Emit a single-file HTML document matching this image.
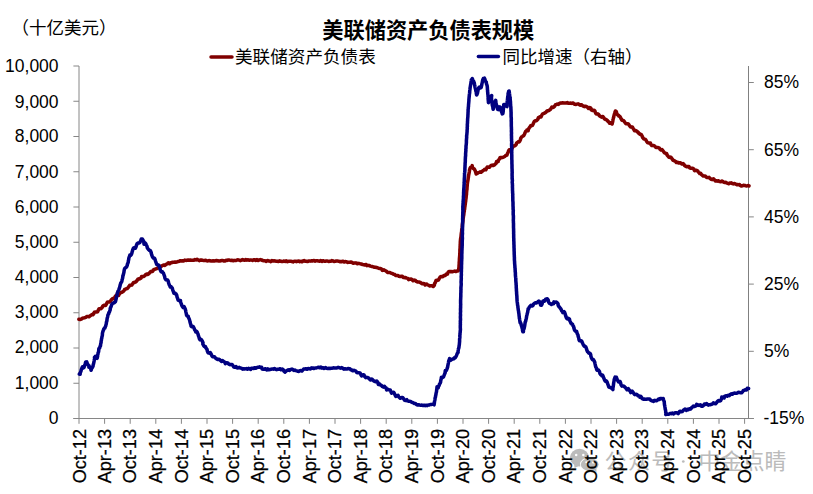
<!DOCTYPE html><html><head><meta charset="utf-8"><title>chart</title>
<style>html,body{margin:0;padding:0;background:#fff;}svg{display:block}text{font-family:"Liberation Sans",sans-serif;font-size:17.5px;fill:#000}</style></head><body>
<svg width="813" height="494" viewBox="0 0 813 494">
<rect width="813" height="494" fill="#fff"/>
<g fill="#bbbbbb">
<text x="604.5" y="469.3" style="font-family:'Liberation Sans','Noto Sans CJK SC',sans-serif;font-size:22px;fill:#bbbbbb;letter-spacing:1.4px">公众号</text>
<circle cx="683.3" cy="461.5" r="1.35"/>
<text x="698.5" y="469.3" style="font-family:'Liberation Sans','Noto Sans CJK SC',sans-serif;font-size:22px;fill:#bbbbbb">中金点睛</text>
<ellipse cx="579.5" cy="457.6" rx="9.6" ry="8.8"/>
<path d="M574 464 L574.6 468 L580 465.5Z"/>
<ellipse cx="589.7" cy="464.5" rx="9.7" ry="7.3" fill="#fff"/>
<ellipse cx="589.7" cy="464.5" rx="8.9" ry="6.5"/>
<path d="M593 469.5 L596.6 472 L596.3 468Z"/>
<circle cx="576.2" cy="455.1" r="1.25" fill="#fff"/><circle cx="583.3" cy="455.1" r="1.25" fill="#fff"/>
<circle cx="586.3" cy="462.3" r="1.05" fill="#fff"/><circle cx="593.1" cy="462.6" r="1.05" fill="#fff"/>
</g>
<g fill="none" stroke-width="1">
<path stroke="#868686" d="M79.0 66.0 V418.5"/>
<path stroke="#868686" d="M73.4 418.5 H753.8"/>
<path stroke="#808080" d="M748.5 66.0 V418.5"/>
<path stroke="#868686" d="M73.4 418.50 H79.0M73.4 383.25 H79.0M73.4 348.00 H79.0M73.4 312.75 H79.0M73.4 277.50 H79.0M73.4 242.25 H79.0M73.4 207.00 H79.0M73.4 171.75 H79.0M73.4 136.50 H79.0M73.4 101.25 H79.0M73.4 66.00 H79.0"/>
<path stroke="#868686" d="M748.5 418.50 H753.8M748.5 351.30 H753.8M748.5 284.10 H753.8M748.5 216.90 H753.8M748.5 149.70 H753.8M748.5 82.50 H753.8"/>
<path stroke="#868686" d="M79.00 418.5 V423.8M104.60 418.5 V423.8M130.20 418.5 V423.8M155.80 418.5 V423.8M181.40 418.5 V423.8M207.00 418.5 V423.8M232.60 418.5 V423.8M258.20 418.5 V423.8M283.80 418.5 V423.8M309.40 418.5 V423.8M335.00 418.5 V423.8M360.60 418.5 V423.8M386.20 418.5 V423.8M411.80 418.5 V423.8M437.40 418.5 V423.8M463.00 418.5 V423.8M488.60 418.5 V423.8M514.20 418.5 V423.8M539.80 418.5 V423.8M565.40 418.5 V423.8M591.00 418.5 V423.8M616.60 418.5 V423.8M642.20 418.5 V423.8M667.80 418.5 V423.8M693.40 418.5 V423.8M719.00 418.5 V423.8M744.60 418.5 V423.8"/>
</g>
<g fill="none" stroke-linejoin="round" stroke-linecap="round">
<path stroke="#800000" stroke-width="3.55" d="M78.9 319.2 L80.1 319.5 L81.3 319.1 L82.3 318.2 L83.4 318.0 L84.5 317.8 L85.7 317.4 L86.7 316.6 L87.8 316.5 L89.0 316.7 L90.1 315.9 L91.1 315.1 L91.8 314.6 L92.8 314.8 L93.7 313.8 L94.4 312.3 L95.6 312.0 L96.5 312.0 L97.7 311.7 L98.3 310.1 L99.1 308.7 L100.3 308.8 L101.0 308.5 L102.0 307.7 L102.8 306.1 L103.8 305.2 L104.8 305.5 L105.7 305.2 L106.5 303.9 L107.3 302.3 L108.4 302.0 L109.3 302.0 L110.3 301.6 L111.1 300.1 L112.2 299.0 L112.9 298.5 L113.8 298.7 L114.8 297.9 L115.4 296.2 L116.4 295.1 L117.3 294.9 L118.6 295.5 L119.2 294.1 L120.2 293.0 L121.2 292.4 L121.9 292.3 L122.7 291.8 L123.9 290.9 L124.6 289.4 L125.6 289.2 L126.2 288.7 L127.2 288.6 L128.3 287.3 L129.2 286.2 L129.7 285.2 L130.6 285.3 L131.7 285.1 L132.7 283.7 L133.5 282.6 L134.4 282.5 L135.2 282.2 L136.3 281.5 L137.3 280.1 L137.9 279.1 L138.7 278.8 L139.8 278.9 L141.0 278.0 L141.6 276.5 L142.8 276.6 L143.7 276.4 L144.8 275.8 L145.7 274.5 L146.7 274.0 L147.9 274.5 L148.8 273.7 L149.9 272.6 L150.7 271.5 L151.6 271.4 L152.7 271.4 L153.3 270.0 L154.6 269.2 L155.7 269.0 L156.5 268.6 L157.7 268.2 L158.5 266.8 L159.4 266.1 L160.5 266.7 L161.4 266.2 L162.5 265.5 L163.5 265.0 L164.6 265.4 L165.5 264.9 L166.4 264.2 L167.5 263.6 L168.3 262.8 L169.6 263.7 L170.5 262.7 L171.7 262.7 L172.7 262.2 L173.8 262.2 L175.0 262.0 L176.2 262.2 L177.2 261.8 L178.3 261.4 L179.4 261.2 L180.4 260.7 L181.6 261.0 L182.6 260.8 L183.8 260.9 L184.8 260.1 L185.9 260.4 L187.0 260.2 L188.1 260.0 L189.2 260.3 L190.4 260.1 L191.5 260.2 L192.6 260.3 L193.8 260.2 L194.9 259.5 L196.0 260.0 L197.1 259.3 L198.1 259.9 L199.2 260.6 L200.3 260.1 L201.4 260.0 L202.4 260.3 L203.5 260.4 L204.6 260.4 L205.7 260.2 L206.7 260.8 L207.8 260.9 L208.9 260.6 L210.0 260.7 L211.1 260.9 L212.1 261.0 L213.2 260.8 L214.3 260.9 L215.4 260.7 L216.5 260.5 L217.6 260.7 L218.7 261.0 L219.7 261.0 L220.8 260.7 L221.8 260.5 L222.9 260.6 L224.0 261.0 L225.0 260.9 L226.1 260.3 L227.2 260.4 L228.3 260.0 L229.4 260.1 L230.5 260.4 L231.6 260.3 L232.7 260.6 L233.8 260.6 L234.9 260.4 L236.0 260.5 L237.0 260.0 L238.1 259.8 L239.2 260.2 L240.3 260.6 L241.4 260.1 L242.5 259.6 L243.6 260.0 L244.7 260.3 L245.8 259.6 L246.9 260.1 L248.1 259.7 L249.2 260.3 L250.3 260.1 L251.4 260.0 L252.5 260.5 L253.7 259.8 L254.8 259.7 L255.9 260.5 L257.0 259.6 L258.2 260.5 L259.3 259.9 L260.4 259.6 L261.6 260.0 L262.8 260.5 L263.9 260.8 L265.1 260.7 L266.3 261.4 L267.4 260.5 L268.5 260.9 L269.6 261.0 L270.8 261.6 L271.9 260.5 L273.0 261.0 L274.1 260.8 L275.2 260.9 L276.3 261.3 L277.4 261.2 L278.5 261.5 L279.7 260.9 L280.8 261.2 L281.9 261.5 L283.0 261.4 L284.1 261.0 L285.2 261.5 L286.3 260.9 L287.5 261.7 L288.6 261.3 L289.7 261.2 L290.8 261.3 L291.9 261.5 L293.1 261.9 L294.2 261.3 L295.3 261.3 L296.4 261.6 L297.6 261.2 L298.7 261.0 L299.8 261.7 L300.9 261.3 L302.0 261.8 L303.0 261.0 L304.1 260.6 L305.2 261.3 L306.3 261.2 L307.5 261.5 L308.5 261.1 L309.6 261.0 L310.7 261.1 L311.8 260.8 L312.9 260.9 L314.1 260.5 L315.2 261.1 L316.3 260.7 L317.4 260.8 L318.5 261.1 L319.6 261.2 L320.7 260.6 L321.8 261.5 L322.9 260.7 L324.1 261.2 L325.2 261.2 L326.3 261.0 L327.4 261.0 L328.5 261.5 L329.6 261.2 L330.8 261.2 L331.9 260.6 L333.0 260.9 L334.1 261.5 L335.2 261.3 L336.4 261.0 L337.5 261.1 L338.6 261.2 L339.7 261.6 L340.9 261.6 L342.0 261.7 L343.1 261.2 L344.2 262.0 L345.3 261.6 L346.4 261.7 L347.4 262.4 L348.6 262.2 L349.7 262.2 L350.8 262.1 L351.9 262.3 L352.9 263.1 L354.0 263.1 L355.1 262.9 L356.3 263.1 L357.3 263.7 L358.4 263.4 L359.5 263.6 L360.6 263.9 L361.7 264.1 L362.7 264.6 L363.8 264.7 L364.9 265.0 L366.2 264.5 L367.0 265.6 L368.2 265.4 L369.4 265.6 L370.4 266.1 L371.4 266.4 L372.5 266.5 L373.5 267.0 L374.6 267.3 L375.6 267.3 L376.5 267.6 L377.5 267.8 L378.6 268.2 L379.6 268.4 L380.5 268.5 L381.5 269.1 L382.4 270.4 L383.8 269.9 L384.7 270.4 L385.8 270.8 L386.8 271.8 L387.8 272.5 L388.7 272.4 L389.9 272.4 L390.9 273.1 L391.9 273.4 L392.8 273.7 L393.6 274.2 L394.8 274.5 L395.6 275.5 L396.7 275.6 L397.9 275.5 L398.9 276.2 L400.1 276.5 L401.3 276.3 L402.4 276.3 L403.3 277.4 L404.5 277.6 L405.6 277.6 L406.6 278.1 L407.8 278.4 L408.7 279.6 L409.9 279.3 L411.1 279.1 L412.2 279.8 L413.1 280.8 L414.4 280.1 L415.5 280.5 L416.4 281.4 L417.4 281.9 L418.4 281.9 L419.3 282.1 L420.4 282.5 L421.4 283.2 L422.2 283.7 L423.3 283.5 L424.4 283.7 L425.2 285.0 L426.6 284.1 L427.5 284.7 L428.6 285.3 L429.7 285.9 L430.9 285.8 L432.0 285.7 L433.2 286.5 L433.7 285.9 L434.4 285.2 L434.5 283.8 L435.6 282.0 L436.0 280.5 L437.0 280.2 L437.8 280.3 L438.5 279.9 L439.2 278.6 L440.1 277.1 L441.0 276.6 L442.0 276.8 L443.0 276.5 L443.9 275.5 L445.3 275.4 L445.9 274.7 L446.3 274.0 L447.5 274.1 L447.9 272.6 L448.9 271.5 L450.1 271.6 L451.2 271.6 L452.4 271.7 L453.6 271.4 L454.7 271.1 L455.8 271.5 L456.8 271.1 L457.9 271.0 L458.6 270.3 L458.7 269.4 L458.8 268.2 L459.0 267.1 L459.0 265.9 L459.1 264.8 L459.2 263.7 L459.2 262.5 L459.3 261.4 L459.4 260.3 L459.4 259.1 L459.5 258.0 L459.6 256.8 L459.7 255.7 L459.8 254.6 L459.8 253.4 L459.9 252.3 L459.9 251.2 L459.9 250.0 L460.0 248.9 L460.1 247.8 L460.1 246.7 L460.2 245.5 L460.2 244.4 L460.3 243.3 L460.3 242.1 L460.4 241.0 L460.5 239.9 L460.6 238.8 L460.8 237.7 L461.0 236.6 L461.1 235.5 L461.2 234.4 L461.3 233.3 L461.5 232.2 L461.7 231.1 L461.7 229.9 L461.9 228.8 L462.1 227.7 L462.2 226.6 L462.3 225.5 L462.4 224.4 L462.6 223.3 L462.8 222.2 L462.9 221.1 L463.0 220.0 L463.1 218.9 L463.3 217.8 L463.4 216.8 L463.6 215.7 L463.8 214.6 L463.9 213.6 L464.0 212.5 L464.3 211.4 L464.3 210.3 L464.6 209.3 L464.7 208.2 L464.8 207.1 L465.0 206.0 L465.1 205.0 L465.3 203.9 L465.4 202.8 L465.6 201.7 L465.7 200.7 L465.8 199.6 L466.0 198.5 L466.1 197.5 L466.2 196.4 L466.3 195.4 L466.5 194.3 L466.5 193.3 L466.6 192.2 L466.7 191.1 L466.8 190.1 L467.0 189.0 L467.0 188.0 L467.1 186.9 L467.2 185.9 L467.2 184.8 L467.4 183.7 L467.5 182.6 L467.7 181.5 L467.9 180.4 L468.1 179.3 L468.2 178.2 L468.4 177.1 L468.5 176.0 L468.7 175.0 L468.9 174.0 L469.1 173.0 L469.3 172.0 L469.4 171.0 L469.6 169.8 L470.0 168.4 L470.6 167.3 L471.2 167.0 L471.8 166.8 L472.2 165.7 L472.5 167.5 L473.1 168.3 L473.7 168.6 L474.2 169.0 L474.7 169.8 L475.3 171.0 L475.8 172.6 L476.2 174.0 L477.1 173.5 L478.1 172.7 L479.2 172.4 L480.0 171.9 L481.1 172.3 L481.9 171.4 L483.1 170.7 L483.9 170.0 L484.5 169.4 L485.8 169.8 L486.5 168.5 L487.2 167.1 L488.4 167.3 L489.3 167.3 L490.0 166.4 L491.1 165.5 L492.3 165.1 L493.4 165.5 L494.3 165.0 L495.3 164.0 L496.4 162.9 L496.5 161.6 L497.3 161.8 L498.1 161.6 L498.3 160.5 L499.4 159.0 L500.0 157.8 L500.9 157.5 L501.9 157.7 L502.9 157.3 L504.0 156.9 L505.0 156.2 L505.6 155.7 L506.1 155.3 L506.9 155.0 L507.4 153.7 L508.2 152.0 L508.7 150.7 L509.2 149.8 L510.0 149.8 L510.9 150.2 L511.6 149.1 L512.5 147.5 L513.3 146.4 L513.9 146.0 L514.4 145.6 L515.2 145.6 L516.2 144.5 L516.7 142.9 L517.8 142.1 L518.3 141.7 L519.1 142.0 L519.7 141.2 L520.4 139.8 L520.7 138.3 L521.7 136.9 L522.5 136.5 L522.9 136.0 L523.6 135.7 L524.3 134.6 L525.0 133.0 L525.6 131.4 L526.6 131.0 L526.9 130.2 L528.1 130.7 L528.4 129.5 L529.2 127.8 L530.3 126.5 L530.7 125.6 L531.4 125.4 L532.4 125.5 L533.0 124.3 L533.7 122.6 L534.5 121.2 L535.2 120.8 L536.0 120.8 L536.8 120.4 L538.0 119.0 L538.4 117.5 L539.5 117.4 L539.9 116.7 L541.0 116.9 L541.6 115.6 L542.5 114.0 L543.5 113.5 L544.3 113.3 L545.1 112.8 L546.3 111.8 L547.3 110.7 L548.4 110.8 L549.2 110.3 L550.3 109.6 L551.2 108.1 L551.8 107.1 L552.9 107.5 L553.6 107.1 L554.7 106.1 L555.5 104.8 L556.5 104.6 L557.3 104.1 L558.4 104.4 L559.4 103.6 L560.3 103.0 L561.4 103.1 L562.5 102.8 L563.8 103.0 L565.0 103.0 L566.1 103.0 L567.3 102.6 L568.3 103.2 L569.5 103.3 L570.7 103.1 L571.8 103.4 L573.0 103.0 L574.0 103.8 L575.0 104.3 L576.1 104.5 L577.2 104.0 L578.3 103.9 L579.3 104.7 L580.3 105.2 L581.4 104.7 L582.3 105.5 L583.4 106.2 L584.4 106.6 L585.6 106.3 L586.7 106.6 L587.7 107.6 L588.5 108.4 L589.7 107.5 L590.8 108.1 L591.1 109.7 L592.1 110.4 L593.1 110.2 L594.0 110.2 L594.9 110.9 L595.3 112.4 L596.1 113.7 L597.0 114.0 L597.7 113.9 L598.5 114.3 L599.4 115.7 L600.6 116.5 L601.5 117.1 L602.9 116.5 L603.8 117.7 L604.6 119.0 L605.5 119.5 L606.3 119.6 L607.0 120.1 L607.8 121.2 L609.0 122.2 L609.5 123.2 L610.4 122.8 L611.1 123.3 L612.1 124.0 L612.3 123.1 L612.6 122.1 L612.8 121.0 L612.9 120.0 L613.2 118.9 L613.4 117.9 L613.6 117.6 L613.8 116.4 L614.2 114.9 L614.7 113.3 L615.1 111.8 L615.4 111.0 L616.4 111.7 L616.7 113.4 L617.7 114.9 L618.5 115.3 L618.9 116.1 L619.7 116.2 L620.4 117.2 L621.2 118.9 L621.9 120.3 L622.9 120.3 L623.5 120.6 L624.1 121.2 L625.0 122.5 L625.9 123.7 L627.0 123.7 L627.9 123.8 L628.7 124.3 L629.6 125.8 L630.5 127.0 L631.5 126.9 L632.3 127.0 L632.9 128.0 L633.8 129.4 L634.5 130.8 L635.7 130.5 L636.3 130.8 L637.0 131.5 L638.3 132.5 L639.0 133.7 L639.9 133.7 L640.3 134.5 L641.3 134.5 L642.1 136.0 L642.8 137.7 L643.6 138.7 L644.2 139.1 L645.0 139.2 L645.8 139.9 L646.7 141.4 L647.5 142.6 L648.3 142.9 L649.1 142.9 L650.4 143.0 L650.9 144.5 L651.8 145.5 L652.8 145.6 L653.9 145.5 L655.0 146.4 L656.0 147.4 L657.1 147.5 L658.1 147.5 L659.3 148.1 L660.2 149.4 L661.0 150.0 L662.0 149.5 L662.6 150.3 L663.5 151.5 L664.5 152.8 L665.4 153.1 L665.9 153.5 L666.7 153.6 L667.0 154.8 L668.0 156.1 L669.0 157.2 L669.7 157.4 L670.6 157.1 L671.4 157.8 L672.2 159.1 L673.0 160.3 L673.9 160.5 L674.5 160.9 L675.4 161.3 L676.4 162.5 L677.7 162.3 L678.6 162.9 L679.8 162.7 L680.9 163.2 L681.9 164.0 L683.1 163.6 L683.9 164.3 L684.6 165.5 L685.7 166.3 L686.6 166.8 L687.7 166.6 L689.0 166.6 L689.7 167.9 L690.8 168.3 L691.7 168.3 L692.9 168.3 L693.9 169.1 L694.5 170.7 L695.5 170.6 L696.5 170.3 L697.5 170.8 L698.4 172.1 L699.3 172.8 L699.7 173.5 L700.6 173.3 L701.3 174.4 L702.3 175.3 L703.2 175.9 L704.2 176.0 L705.2 176.0 L706.0 176.9 L707.0 177.5 L708.0 177.6 L709.1 177.4 L710.0 178.4 L711.0 179.3 L712.2 179.6 L713.5 178.8 L714.4 179.7 L715.3 180.9 L716.5 180.7 L717.4 181.1 L718.6 180.8 L719.6 181.6 L720.7 181.7 L721.9 181.0 L722.8 181.7 L723.8 182.2 L724.8 182.4 L725.8 182.3 L726.6 183.1 L727.7 183.2 L728.7 183.8 L729.9 183.1 L731.1 182.9 L732.2 183.5 L733.4 183.9 L734.6 183.5 L735.5 184.0 L736.5 184.6 L737.6 184.6 L738.5 184.7 L739.6 184.6 L740.4 185.6 L741.5 186.0 L742.6 185.6 L743.7 185.3 L744.8 185.4 L745.8 185.7 L746.9 186.0 L748.0 185.5 L749.0 185.9"/>
<path stroke="#000080" stroke-width="3.55" d="M79.3 374.1 L80.1 374.3 L80.2 373.0 L80.9 371.4 L81.3 369.6 L82.0 367.9 L82.5 366.9 L83.7 367.8 L84.1 367.2 L84.4 366.3 L84.8 365.0 L85.3 363.5 L85.7 362.1 L86.7 361.9 L87.2 363.3 L88.2 365.1 L89.1 365.9 L88.9 367.3 L89.7 367.2 L90.2 367.4 L90.6 368.2 L91.1 370.3 L91.5 368.7 L91.7 368.0 L92.2 367.8 L92.3 367.0 L93.0 366.4 L93.1 365.3 L93.5 364.0 L93.8 362.6 L94.1 361.1 L94.3 359.8 L94.7 358.4 L94.5 357.4 L95.2 356.5 L96.2 357.3 L97.1 358.3 L97.6 356.3 L97.6 355.1 L98.0 354.0 L98.1 352.8 L98.6 351.8 L98.7 350.6 L98.9 348.5 L99.7 347.8 L99.9 346.9 L100.1 346.2 L100.5 345.9 L100.6 344.5 L100.8 343.4 L101.1 342.4 L101.1 341.3 L101.4 340.2 L101.5 339.1 L101.8 338.1 L101.9 337.0 L102.2 336.0 L102.4 334.9 L102.4 333.8 L102.6 332.5 L103.1 330.9 L103.6 329.7 L103.8 328.8 L104.3 328.4 L104.8 328.2 L105.0 327.5 L105.3 326.9 L105.7 326.0 L105.9 325.0 L106.3 323.7 L106.4 322.4 L106.9 320.8 L107.0 319.6 L107.2 318.3 L107.6 316.9 L107.8 315.8 L108.0 314.8 L108.4 314.2 L108.8 313.7 L108.8 312.6 L109.2 312.4 L109.5 311.7 L109.8 310.8 L110.2 309.8 L110.2 308.6 L111.1 306.6 L111.6 304.9 L112.3 303.7 L112.8 303.2 L113.4 303.1 L114.3 302.7 L115.4 301.7 L115.7 300.8 L115.9 299.7 L116.2 298.6 L116.4 297.5 L116.6 296.4 L116.9 295.4 L117.3 294.3 L117.3 293.2 L117.7 292.2 L118.0 291.1 L118.2 291.0 L118.7 290.1 L119.2 288.6 L119.8 286.8 L120.1 285.3 L120.5 284.0 L120.8 283.0 L121.3 282.4 L121.6 281.9 L121.9 280.9 L122.1 279.8 L122.4 278.8 L122.7 277.7 L122.8 276.6 L123.1 275.6 L123.4 274.5 L123.6 273.4 L123.9 272.4 L124.1 270.8 L124.4 269.4 L124.8 268.2 L125.5 267.8 L126.0 267.4 L126.5 267.2 L126.8 266.4 L127.2 265.4 L127.4 264.2 L128.3 262.1 L128.3 261.1 L128.7 259.5 L128.8 258.4 L129.1 257.3 L129.5 256.5 L129.7 255.7 L129.9 255.0 L130.7 255.4 L131.3 254.7 L131.8 253.4 L132.2 251.7 L132.7 249.9 L133.3 248.4 L133.9 247.7 L134.6 248.0 L135.4 248.2 L135.9 247.1 L136.4 245.5 L137.1 243.7 L138.1 243.0 L138.6 242.7 L139.3 242.9 L139.9 242.4 L140.7 240.8 L141.3 239.0 L141.8 239.1 L142.4 239.0 L143.7 241.4 L143.9 242.8 L144.0 244.2 L145.4 243.2 L145.8 243.8 L146.2 244.7 L147.0 246.3 L147.4 248.0 L148.5 249.6 L149.1 250.0 L149.5 250.4 L150.2 250.5 L150.9 251.6 L151.2 253.0 L151.7 254.9 L152.3 256.5 L152.9 257.4 L153.4 258.0 L154.0 258.0 L154.6 258.3 L155.0 259.4 L155.5 261.0 L156.2 263.0 L156.7 264.5 L157.7 264.7 L158.1 265.0 L158.8 265.2 L159.1 266.4 L159.9 268.1 L160.2 269.8 L160.9 271.4 L161.7 271.9 L162.4 271.8 L162.7 272.5 L163.4 273.1 L163.9 274.5 L164.6 276.4 L164.9 277.9 L165.5 279.2 L166.0 279.8 L166.7 279.8 L167.5 279.9 L168.3 281.4 L168.6 283.0 L169.3 284.9 L169.9 286.0 L170.2 286.8 L171.0 286.5 L171.4 287.3 L172.2 288.1 L172.7 289.8 L173.4 291.7 L173.9 293.1 L174.9 293.0 L175.1 293.8 L175.9 293.8 L176.7 295.1 L177.0 296.8 L177.7 298.7 L178.1 300.1 L178.9 300.5 L179.5 300.5 L180.5 300.5 L180.5 301.9 L181.2 303.6 L181.9 305.6 L182.6 306.8 L183.1 307.5 L184.1 306.7 L184.5 307.6 L185.2 308.9 L185.7 310.7 L185.9 312.1 L186.3 313.6 L186.5 314.9 L187.0 315.8 L187.7 315.9 L188.2 316.2 L188.3 317.2 L188.7 317.9 L189.2 319.0 L189.7 320.5 L190.0 322.0 L190.5 323.7 L190.9 325.0 L191.1 326.1 L191.6 326.7 L192.1 326.7 L193.2 326.5 L194.0 328.0 L194.7 329.9 L195.6 330.8 L195.7 331.9 L196.6 331.4 L197.0 331.9 L197.3 332.7 L198.0 334.0 L198.4 335.6 L199.1 337.5 L199.4 338.8 L200.0 339.7 L200.9 339.2 L201.4 339.7 L202.1 340.7 L203.0 342.8 L202.8 344.0 L203.8 345.8 L204.3 346.5 L205.0 346.5 L205.5 346.7 L205.7 347.7 L207.0 349.3 L207.3 350.9 L207.9 352.5 L208.6 353.0 L209.2 353.1 L210.3 352.6 L211.2 354.2 L211.9 355.8 L212.6 356.7 L213.5 356.8 L214.5 356.8 L215.4 358.1 L216.7 358.9 L217.4 359.5 L218.5 359.2 L219.6 359.7 L220.7 360.6 L221.4 361.4 L222.6 360.6 L223.5 361.3 L224.7 362.2 L225.4 363.6 L226.7 362.8 L227.8 363.0 L228.8 364.2 L229.9 364.7 L230.9 364.6 L232.1 364.5 L233.0 365.8 L233.8 367.0 L234.7 367.2 L236.0 366.5 L236.8 367.8 L238.0 368.0 L239.3 367.4 L240.4 368.1 L241.6 368.3 L242.7 369.2 L243.9 368.7 L245.1 368.9 L246.3 368.6 L247.4 369.2 L248.5 368.4 L249.6 369.0 L250.7 369.5 L251.4 368.2 L252.6 368.3 L253.6 368.4 L254.5 367.8 L255.8 368.2 L257.0 367.5 L258.2 367.3 L259.5 366.8 L260.5 367.3 L261.6 367.2 L262.1 369.0 L263.4 369.3 L264.4 369.2 L265.5 368.7 L266.6 369.9 L267.7 368.8 L268.9 369.8 L270.0 369.6 L271.1 369.2 L272.2 369.0 L273.3 369.1 L274.4 368.5 L275.6 369.3 L276.7 369.7 L277.9 369.2 L279.0 369.2 L280.2 368.7 L281.0 369.8 L282.2 369.1 L283.1 369.6 L283.9 371.0 L284.9 372.1 L286.2 370.9 L287.3 370.4 L288.3 369.8 L289.6 370.4 L290.7 369.4 L291.9 369.1 L293.0 369.6 L293.9 370.4 L294.9 370.1 L295.8 370.6 L296.8 370.9 L297.8 371.2 L298.9 371.4 L299.8 370.7 L300.8 370.6 L301.9 371.0 L302.7 370.1 L303.6 369.1 L304.8 369.0 L305.9 368.8 L307.1 369.2 L308.2 368.5 L309.4 368.8 L310.5 368.9 L311.6 367.9 L312.8 368.0 L314.0 368.5 L315.1 368.0 L316.4 368.0 L317.5 367.5 L318.6 367.3 L319.8 367.7 L320.9 367.0 L322.0 368.1 L323.2 367.7 L324.2 368.5 L325.4 367.5 L326.5 368.2 L327.7 368.4 L328.9 368.2 L330.0 368.5 L331.2 368.3 L332.3 368.2 L333.4 367.8 L334.6 367.9 L335.8 367.9 L337.0 367.9 L338.2 367.4 L339.4 367.7 L340.6 368.1 L341.8 367.6 L342.8 368.3 L343.9 369.2 L345.1 368.7 L346.1 368.9 L347.1 369.0 L348.0 368.5 L349.0 368.8 L350.0 368.8 L350.7 369.7 L351.8 370.0 L352.8 370.8 L354.0 370.3 L354.8 370.7 L355.9 371.1 L356.8 372.5 L358.0 372.8 L358.9 372.8 L360.0 372.9 L360.8 374.5 L361.6 375.9 L363.1 374.7 L364.0 374.9 L364.7 376.5 L365.7 377.6 L366.8 377.4 L367.7 377.6 L368.7 378.1 L369.6 379.2 L370.5 380.0 L371.8 379.0 L372.6 379.8 L373.6 380.8 L374.7 381.3 L375.5 381.7 L376.8 381.0 L377.9 382.6 L378.3 384.5 L379.7 384.1 L380.2 385.0 L381.2 385.2 L382.4 386.5 L383.4 387.1 L384.5 386.3 L385.0 387.2 L386.2 388.0 L386.6 389.9 L388.2 389.4 L388.8 389.8 L390.2 389.9 L390.9 391.7 L391.6 393.1 L392.7 392.4 L393.6 392.2 L394.4 393.4 L395.1 395.1 L395.8 396.3 L396.9 395.8 L398.0 395.3 L398.6 396.7 L399.6 397.6 L400.4 398.3 L401.6 397.5 L402.6 397.5 L403.7 398.8 L404.5 400.1 L405.3 400.5 L406.8 399.7 L407.6 400.9 L408.7 401.2 L409.6 401.3 L410.6 401.4 L411.5 402.1 L412.6 402.5 L413.5 402.9 L414.3 403.4 L415.4 403.4 L416.3 404.4 L417.4 405.0 L418.4 404.7 L419.6 405.0 L420.7 405.2 L421.9 405.1 L423.1 405.5 L424.3 405.2 L425.3 405.6 L426.2 405.3 L427.2 405.6 L428.2 405.0 L429.3 405.0 L430.3 404.5 L431.7 404.4 L432.9 404.1 L434.1 404.8 L434.4 402.7 L434.5 401.5 L434.8 400.4 L435.0 399.2 L435.1 398.0 L435.5 396.9 L435.6 395.8 L435.9 394.8 L436.0 393.8 L436.2 392.7 L436.5 391.7 L436.6 390.6 L436.7 389.6 L436.9 388.5 L437.0 386.8 L438.2 387.9 L438.3 386.7 L439.1 385.5 L439.6 383.9 L440.2 383.0 L440.6 382.0 L440.7 380.9 L440.9 379.9 L441.2 378.9 L441.4 377.2 L442.2 377.7 L443.5 377.0 L444.2 375.0 L444.9 373.4 L445.2 372.4 L445.2 371.3 L445.4 370.5 L446.1 370.7 L446.5 370.1 L446.8 369.4 L447.1 368.5 L447.6 367.2 L447.8 365.8 L448.1 364.4 L448.4 363.0 L448.6 361.7 L448.9 360.4 L449.4 359.5 L449.5 358.6 L450.7 360.2 L451.7 359.6 L452.7 359.0 L454.0 358.7 L454.4 357.7 L455.1 357.8 L455.7 357.1 L456.5 355.4 L457.3 353.4 L458.1 352.4 L458.0 352.2 L458.1 351.1 L458.3 350.0 L458.4 349.0 L458.8 348.0 L459.0 346.9 L459.1 345.9 L459.3 344.8 L459.4 343.7 L459.5 342.5 L459.6 341.4 L459.6 340.2 L459.6 339.1 L459.8 338.0 L459.9 336.8 L459.8 335.7 L460.0 334.6 L460.0 333.4 L460.2 332.3 L460.2 331.1 L460.4 330.0 L460.4 328.9 L460.3 327.8 L460.3 326.7 L460.3 325.6 L460.4 324.5 L460.3 323.4 L460.4 322.3 L460.3 321.1 L460.5 320.0 L460.5 318.9 L460.4 317.8 L460.4 316.7 L460.5 315.6 L460.5 314.5 L460.4 313.4 L460.5 312.3 L460.6 311.2 L460.5 310.1 L460.5 309.0 L460.6 307.9 L460.6 306.8 L460.6 305.6 L460.7 304.5 L460.6 303.4 L460.6 302.3 L460.6 301.2 L460.6 300.1 L460.7 299.0 L460.7 297.9 L460.8 296.8 L460.8 295.7 L460.8 294.6 L460.8 293.5 L460.9 292.4 L460.9 291.4 L460.9 290.3 L461.0 289.2 L460.9 288.1 L461.0 287.0 L461.1 285.9 L461.2 284.8 L461.2 283.7 L461.1 282.6 L461.1 281.5 L461.2 280.4 L461.2 279.4 L461.3 278.3 L461.2 277.2 L461.2 276.1 L461.4 275.0 L461.3 273.9 L461.3 272.8 L461.4 271.7 L461.4 270.6 L461.4 269.5 L461.5 268.4 L461.5 267.3 L461.5 266.2 L461.5 265.2 L461.6 264.1 L461.6 263.0 L461.6 261.9 L461.7 260.8 L461.7 259.7 L461.8 258.6 L461.8 257.5 L461.8 256.4 L461.8 255.3 L461.8 254.2 L461.9 253.1 L461.9 252.0 L461.9 250.9 L462.0 249.9 L462.0 248.8 L462.1 247.7 L462.1 246.6 L462.2 245.5 L462.2 244.4 L462.2 243.3 L462.2 242.2 L462.2 241.1 L462.3 240.0 L462.4 238.9 L462.4 237.8 L462.3 236.7 L462.3 235.6 L462.4 234.5 L462.5 233.4 L462.4 232.3 L462.4 231.2 L462.5 230.1 L462.5 229.0 L462.5 227.9 L462.6 226.8 L462.6 225.7 L462.6 224.6 L462.6 223.5 L462.6 222.4 L462.7 221.3 L462.7 220.2 L462.6 219.1 L462.7 218.0 L462.7 216.9 L462.7 215.8 L462.8 214.7 L462.8 213.6 L462.8 212.5 L462.9 211.4 L462.9 210.3 L462.8 209.2 L462.9 208.1 L462.8 207.0 L462.9 205.9 L463.0 204.8 L463.0 203.7 L463.2 202.5 L463.1 201.4 L463.3 200.3 L463.3 199.2 L463.5 198.1 L463.4 197.0 L463.5 195.8 L463.6 194.7 L463.6 193.6 L463.6 192.5 L463.7 191.4 L463.7 190.3 L463.8 189.2 L463.9 188.0 L464.0 186.9 L464.0 185.8 L464.1 184.7 L464.2 183.6 L464.1 182.5 L464.3 181.3 L464.3 180.2 L464.3 179.1 L464.4 178.0 L464.5 176.9 L464.5 175.8 L464.6 174.7 L464.5 173.6 L464.7 172.5 L464.8 171.4 L464.9 170.3 L464.9 169.2 L464.9 168.1 L465.0 167.0 L465.0 165.9 L465.1 164.8 L465.1 163.6 L465.2 162.5 L465.3 161.4 L465.3 160.3 L465.3 159.2 L465.4 158.1 L465.4 157.0 L465.6 155.9 L465.6 154.8 L465.6 153.7 L465.7 152.6 L465.8 151.5 L465.9 150.4 L465.8 149.3 L466.0 148.2 L466.0 147.1 L466.0 146.0 L466.2 144.9 L466.3 143.8 L466.4 142.7 L466.4 141.6 L466.4 140.5 L466.5 139.4 L466.6 138.2 L466.7 137.1 L466.6 136.0 L466.8 134.9 L466.9 133.8 L467.0 132.7 L467.1 131.6 L467.1 130.5 L467.2 129.4 L467.3 128.3 L467.2 127.2 L467.4 126.1 L467.3 125.0 L467.4 123.9 L467.5 122.8 L467.5 121.7 L467.6 120.6 L467.6 119.5 L467.7 118.4 L467.8 117.3 L467.9 116.2 L467.9 115.1 L468.0 114.0 L468.0 112.9 L468.1 111.8 L468.1 110.7 L468.1 109.6 L468.3 108.5 L468.3 107.4 L468.5 106.3 L468.5 105.2 L468.6 104.1 L468.7 103.0 L468.8 101.9 L468.9 100.8 L468.9 99.7 L469.0 98.6 L469.1 97.5 L469.2 96.5 L469.3 95.4 L469.4 94.3 L469.6 93.2 L469.7 92.1 L469.7 91.0 L469.9 90.0 L470.0 88.9 L470.1 87.8 L470.3 86.7 L470.5 85.5 L470.7 84.4 L470.9 83.3 L471.0 82.2 L471.2 81.0 L471.4 79.6 L471.8 79.5 L472.3 78.6 L472.9 80.4 L473.1 81.2 L473.7 81.2 L473.7 82.3 L474.2 82.6 L474.5 84.4 L474.8 85.4 L474.9 86.5 L475.1 87.6 L475.4 88.7 L475.7 89.7 L475.8 90.8 L476.3 92.0 L476.3 93.3 L476.6 95.0 L476.9 94.6 L477.4 93.4 L477.7 91.9 L478.0 90.5 L478.3 89.0 L478.8 87.7 L479.4 87.1 L480.6 88.0 L481.2 87.5 L481.4 86.4 L481.7 85.2 L481.9 83.9 L482.3 82.4 L482.5 81.1 L482.8 79.7 L483.4 78.4 L484.1 78.2 L484.4 78.1 L484.9 79.3 L485.3 80.7 L485.8 81.7 L486.3 82.1 L486.3 82.9 L486.5 83.9 L486.9 84.9 L487.2 85.9 L487.3 87.0 L487.4 88.1 L487.4 89.3 L487.6 90.4 L487.6 91.6 L487.8 92.7 L487.8 93.9 L488.0 95.0 L488.0 96.1 L488.2 97.2 L488.1 98.3 L488.2 99.5 L488.3 100.6 L488.4 101.7 L488.4 102.6 L488.7 102.0 L488.9 101.2 L489.4 100.9 L489.7 100.1 L489.8 99.0 L490.5 97.6 L491.7 95.5 L491.4 98.0 L491.5 99.1 L491.7 100.2 L491.9 101.4 L492.0 102.5 L492.1 103.6 L492.3 104.7 L492.4 105.7 L492.8 106.7 L492.9 107.8 L493.2 109.3 L493.4 107.7 L493.6 106.7 L493.7 105.6 L494.1 104.6 L494.4 103.6 L494.5 103.3 L495.3 101.5 L495.7 100.4 L495.9 102.0 L495.9 103.0 L496.1 104.0 L496.5 105.0 L496.6 106.0 L496.9 106.5 L497.2 107.9 L497.6 109.4 L498.1 109.4 L498.5 109.7 L499.0 108.4 L499.3 106.9 L500.0 107.0 L500.5 107.8 L500.7 109.1 L501.0 110.5 L501.9 112.5 L502.3 113.9 L502.8 113.7 L503.0 112.6 L503.2 111.5 L503.2 110.3 L503.4 109.2 L503.5 108.1 L503.6 107.0 L503.7 105.8 L503.8 104.4 L504.6 104.4 L505.3 105.5 L507.0 106.6 L507.0 104.5 L507.0 103.4 L507.2 102.4 L507.2 101.3 L507.4 100.2 L507.5 99.2 L507.6 98.1 L507.7 97.1 L507.9 96.0 L508.1 95.0 L508.1 93.5 L508.5 92.2 L508.7 91.1 L509.1 91.0 L509.3 92.3 L509.4 93.3 L509.6 94.4 L509.6 95.5 L509.9 96.6 L510.0 97.6 L510.2 98.7 L510.2 99.8 L510.4 101.0 L510.5 102.1 L510.5 103.2 L510.6 104.3 L510.6 105.5 L510.8 106.6 L510.9 107.7 L510.9 108.9 L511.0 110.0 L511.0 111.1 L511.1 112.1 L511.1 113.2 L511.1 114.3 L511.1 115.4 L511.1 116.5 L511.2 117.5 L511.3 118.6 L511.3 119.7 L511.2 120.8 L511.3 121.8 L511.3 122.9 L511.3 124.0 L511.3 125.1 L511.3 126.1 L511.4 127.2 L511.4 128.3 L511.5 129.4 L511.4 130.5 L511.4 131.6 L511.5 132.7 L511.5 133.8 L511.4 134.9 L511.5 136.0 L511.5 137.1 L511.5 138.3 L511.6 139.4 L511.5 140.5 L511.7 141.6 L511.7 142.7 L511.6 143.8 L511.6 144.9 L511.6 146.0 L511.7 147.1 L511.7 148.2 L511.7 149.3 L511.8 150.4 L511.7 151.5 L511.8 152.6 L511.7 153.7 L511.8 154.8 L511.8 155.9 L511.8 157.0 L511.8 158.1 L511.8 159.2 L511.9 160.3 L511.9 161.4 L511.9 162.5 L511.9 163.7 L512.0 164.8 L512.0 165.9 L512.0 167.0 L512.0 168.1 L512.1 169.2 L512.1 170.3 L512.1 171.4 L512.2 172.5 L512.1 173.6 L512.1 174.7 L512.1 175.8 L512.2 176.9 L512.1 178.0 L512.2 179.1 L512.4 180.2 L512.3 181.3 L512.2 182.5 L512.4 183.6 L512.4 184.7 L512.5 185.8 L512.4 186.9 L512.5 188.0 L512.5 189.2 L512.5 190.3 L512.6 191.4 L512.6 192.5 L512.7 193.6 L512.8 194.7 L512.7 195.8 L512.8 197.0 L512.8 198.1 L512.8 199.2 L512.8 200.3 L512.9 201.4 L513.0 202.5 L513.0 203.7 L513.0 204.8 L513.0 205.9 L513.1 207.0 L513.1 208.1 L513.1 209.2 L513.3 210.3 L513.2 211.4 L513.2 212.5 L513.2 213.5 L513.2 214.6 L513.4 215.7 L513.4 216.8 L513.4 217.9 L513.4 219.0 L513.3 220.1 L513.4 221.2 L513.4 222.3 L513.5 223.4 L513.5 224.5 L513.5 225.5 L513.5 226.6 L513.5 227.7 L513.6 228.8 L513.6 229.9 L513.6 231.0 L513.7 232.1 L513.6 233.2 L513.7 234.3 L513.7 235.4 L513.7 236.5 L513.7 237.5 L513.8 238.6 L513.8 239.7 L513.8 240.8 L513.9 241.9 L513.9 243.0 L513.9 244.1 L514.0 245.2 L514.0 246.3 L514.0 247.5 L514.1 248.6 L514.1 249.7 L514.1 250.8 L514.2 251.9 L514.2 253.0 L514.2 254.1 L514.3 255.2 L514.3 256.4 L514.4 257.5 L514.4 258.6 L514.4 259.7 L514.5 260.8 L514.6 261.9 L514.6 263.0 L514.7 264.1 L514.8 265.2 L514.9 266.3 L514.9 267.4 L515.1 268.5 L515.1 269.5 L515.2 270.6 L515.2 271.7 L515.4 272.8 L515.4 273.9 L515.4 275.0 L515.5 276.1 L515.6 277.2 L515.8 278.3 L515.8 279.4 L515.8 280.5 L515.9 281.6 L516.0 282.6 L516.1 283.7 L516.1 284.8 L516.3 285.9 L516.2 286.9 L516.3 288.0 L516.4 289.1 L516.4 290.2 L516.5 291.2 L516.6 292.3 L516.6 293.4 L516.7 294.5 L516.8 295.5 L516.9 296.6 L516.9 297.7 L517.0 298.8 L517.0 299.9 L517.1 300.9 L517.2 302.0 L517.4 303.1 L517.5 304.1 L517.6 305.2 L517.9 306.2 L517.9 307.3 L518.1 308.4 L518.2 309.4 L518.4 310.5 L518.6 311.5 L518.7 312.6 L518.9 313.6 L519.0 314.7 L519.1 315.8 L519.3 316.8 L519.3 317.9 L519.6 318.9 L519.7 320.0 L520.0 322.0 L520.2 322.8 L520.7 323.1 L521.0 323.7 L521.1 324.6 L521.4 325.4 L521.7 326.4 L522.0 327.6 L522.5 329.1 L522.5 330.3 L522.9 331.8 L523.4 331.7 L523.4 330.6 L523.5 329.6 L524.0 328.8 L524.3 327.5 L524.6 326.2 L524.8 324.7 L525.0 323.4 L525.2 322.1 L525.6 321.5 L525.8 320.4 L526.0 319.4 L526.3 318.4 L526.5 317.3 L526.6 316.2 L526.9 315.2 L527.1 314.2 L527.4 313.1 L527.7 312.1 L527.8 311.0 L528.1 310.0 L528.1 308.9 L528.7 308.7 L529.3 307.1 L530.3 306.0 L530.9 305.3 L531.9 306.0 L532.9 305.6 L533.6 304.0 L534.7 303.1 L535.6 302.8 L536.6 302.9 L537.8 301.9 L538.8 301.0 L539.4 301.6 L540.2 303.6 L540.7 305.1 L541.3 305.3 L542.1 304.0 L542.4 302.4 L543.0 301.1 L543.7 300.8 L544.5 301.1 L544.9 300.6 L545.6 299.2 L546.3 299.1 L547.3 298.8 L548.2 300.0 L548.5 301.7 L549.3 303.3 L550.2 303.6 L550.7 303.9 L551.4 304.5 L552.2 303.7 L552.9 303.8 L553.6 303.7 L553.9 301.9 L555.1 302.2 L556.4 302.1 L557.3 302.8 L558.1 304.0 L558.1 305.1 L558.4 305.9 L558.9 306.2 L559.1 306.9 L559.5 307.2 L560.0 307.8 L561.0 309.1 L561.7 310.9 L562.7 311.5 L562.8 312.6 L564.0 311.6 L564.6 312.4 L565.2 314.1 L565.7 315.9 L566.3 317.6 L566.8 318.5 L567.3 318.9 L568.2 318.3 L569.4 319.0 L569.8 320.7 L570.6 322.3 L571.0 323.3 L571.5 323.6 L571.9 324.2 L572.5 324.2 L572.7 325.2 L573.6 326.5 L573.9 328.1 L574.5 330.1 L575.4 331.1 L576.1 331.1 L576.6 331.5 L576.9 332.4 L577.1 333.4 L578.0 335.0 L578.2 336.5 L578.8 338.3 L579.0 339.7 L579.5 340.8 L580.2 340.7 L580.8 340.7 L581.6 340.9 L582.1 342.3 L583.1 344.3 L583.7 345.4 L584.2 346.0 L584.7 346.1 L585.0 346.7 L585.8 347.0 L586.4 348.4 L586.9 350.2 L587.6 351.8 L588.4 352.3 L588.7 353.1 L589.3 353.1 L590.0 353.4 L590.7 354.7 L590.9 356.2 L591.5 358.0 L592.2 359.2 L592.6 359.8 L593.3 359.6 L593.7 360.2 L594.1 360.9 L594.7 362.1 L595.0 363.6 L595.4 365.3 L595.7 366.8 L596.5 368.2 L596.6 369.4 L597.0 370.1 L597.8 369.7 L598.4 370.1 L599.5 371.6 L599.9 373.4 L600.8 374.7 L601.5 374.8 L601.8 375.6 L602.7 375.3 L603.1 376.6 L604.0 378.6 L604.7 380.3 L605.3 381.1 L606.1 380.8 L606.6 381.3 L607.1 382.0 L607.5 383.4 L608.3 385.4 L608.9 387.1 L609.8 387.5 L610.4 387.5 L611.5 388.1 L612.9 389.5 L612.9 387.9 L613.2 386.8 L613.3 385.7 L613.5 384.6 L613.6 383.4 L613.8 382.3 L614.0 381.2 L614.2 380.1 L614.2 379.5 L615.1 377.1 L616.0 377.4 L616.4 377.3 L616.9 379.0 L617.5 380.4 L618.2 381.0 L618.4 381.9 L618.9 381.9 L620.1 381.5 L620.6 382.9 L621.0 384.7 L622.0 386.1 L622.8 386.0 L623.4 386.0 L624.1 386.4 L625.5 387.7 L626.4 388.8 L627.0 389.7 L628.3 388.7 L629.2 390.0 L630.3 391.3 L630.7 392.6 L632.1 391.1 L632.8 391.9 L633.7 393.2 L634.6 394.6 L635.6 394.4 L636.4 394.3 L637.3 394.8 L638.1 395.8 L639.4 396.1 L639.8 397.2 L640.8 396.4 L641.4 397.1 L642.2 398.7 L643.2 399.1 L644.2 399.1 L645.3 399.3 L646.3 399.3 L647.5 399.0 L648.5 398.9 L649.6 398.9 L650.4 400.0 L651.7 400.8 L652.4 400.9 L653.6 401.4 L654.5 400.4 L655.5 400.6 L656.6 400.6 L657.7 400.0 L658.5 399.0 L659.5 399.4 L660.1 398.6 L661.3 398.6 L662.0 398.7 L663.2 398.6 L663.6 400.0 L663.9 400.8 L664.3 401.8 L664.3 402.9 L664.4 403.9 L664.5 404.9 L664.8 406.0 L664.9 407.0 L665.1 408.0 L665.2 409.1 L665.5 410.1 L665.7 411.2 L665.7 412.2 L666.0 413.2 L665.8 414.6 L667.1 413.8 L668.2 414.3 L669.2 414.1 L670.2 413.4 L671.3 413.6 L672.3 413.1 L673.6 413.9 L674.6 413.0 L675.7 412.7 L676.8 412.7 L678.1 413.7 L679.1 412.2 L679.9 411.2 L681.1 411.8 L682.2 411.6 L683.3 410.3 L684.2 409.7 L685.1 409.1 L686.5 410.4 L687.4 409.2 L688.6 409.6 L689.4 408.8 L690.7 409.1 L691.8 407.5 L692.7 406.8 L693.4 406.1 L694.6 406.5 L695.9 405.9 L696.6 404.4 L697.8 405.0 L699.0 405.4 L700.4 404.8 L701.4 406.3 L702.6 406.2 L703.5 405.4 L704.4 404.0 L705.4 404.4 L706.5 403.5 L707.4 404.5 L708.3 405.1 L709.4 404.7 L710.5 404.7 L711.4 404.3 L712.5 404.0 L713.4 402.9 L714.6 403.5 L715.6 403.7 L716.5 402.8 L717.6 401.2 L718.6 400.6 L719.6 401.0 L720.6 400.6 L721.5 398.8 L721.8 397.1 L723.1 397.4 L724.1 398.0 L724.6 396.4 L725.9 395.7 L727.2 396.2 L728.1 395.3 L729.4 395.6 L730.4 394.6 L731.3 393.7 L732.4 394.3 L733.2 393.5 L734.4 393.1 L735.6 393.2 L736.6 393.2 L737.5 392.9 L738.5 392.2 L739.5 392.4 L740.6 392.7 L741.6 392.7 L742.6 391.7 L743.4 390.4 L744.4 390.2 L745.1 389.8 L746.5 390.0 L747.3 388.3 L748.6 388.5"/>
</g>
<text x="58.6" y="423.8" text-anchor="end">0</text>
<text x="58.6" y="388.6" text-anchor="end">1,000</text>
<text x="58.6" y="353.3" text-anchor="end">2,000</text>
<text x="58.6" y="318.1" text-anchor="end">3,000</text>
<text x="58.6" y="282.8" text-anchor="end">4,000</text>
<text x="58.6" y="247.6" text-anchor="end">5,000</text>
<text x="58.6" y="212.5" text-anchor="end">6,000</text>
<text x="58.6" y="177.5" text-anchor="end">7,000</text>
<text x="58.6" y="142.4" text-anchor="end">8,000</text>
<text x="58.6" y="107.5" text-anchor="end">9,000</text>
<text x="58.6" y="72.3" text-anchor="end">10,000</text>
<text x="763.5" y="423.8">-15%</text>
<text x="764.0" y="357.4">5%</text>
<text x="764.0" y="290.2">25%</text>
<text x="764.0" y="222.9">45%</text>
<text x="764.0" y="155.7">65%</text>
<text x="764.0" y="87.6">85%</text>
<text transform="translate(86.00 429.0) rotate(-90) scale(1 0.975)" text-anchor="end" style="font-size:18.1px" stroke="#000" stroke-width="0.25">Oct-12</text>
<text transform="translate(110.80 429.0) rotate(-90) scale(1 0.975)" text-anchor="end" style="font-size:18.1px" stroke="#000" stroke-width="0.25">Apr-13</text>
<text transform="translate(136.40 429.0) rotate(-90) scale(1 0.975)" text-anchor="end" style="font-size:18.1px" stroke="#000" stroke-width="0.25">Oct-13</text>
<text transform="translate(162.00 429.0) rotate(-90) scale(1 0.975)" text-anchor="end" style="font-size:18.1px" stroke="#000" stroke-width="0.25">Apr-14</text>
<text transform="translate(187.60 429.0) rotate(-90) scale(1 0.975)" text-anchor="end" style="font-size:18.1px" stroke="#000" stroke-width="0.25">Oct-14</text>
<text transform="translate(213.20 429.0) rotate(-90) scale(1 0.975)" text-anchor="end" style="font-size:18.1px" stroke="#000" stroke-width="0.25">Apr-15</text>
<text transform="translate(238.80 429.0) rotate(-90) scale(1 0.975)" text-anchor="end" style="font-size:18.1px" stroke="#000" stroke-width="0.25">Oct-15</text>
<text transform="translate(264.40 429.0) rotate(-90) scale(1 0.975)" text-anchor="end" style="font-size:18.1px" stroke="#000" stroke-width="0.25">Apr-16</text>
<text transform="translate(290.00 429.0) rotate(-90) scale(1 0.975)" text-anchor="end" style="font-size:18.1px" stroke="#000" stroke-width="0.25">Oct-16</text>
<text transform="translate(315.60 429.0) rotate(-90) scale(1 0.975)" text-anchor="end" style="font-size:18.1px" stroke="#000" stroke-width="0.25">Apr-17</text>
<text transform="translate(341.20 429.0) rotate(-90) scale(1 0.975)" text-anchor="end" style="font-size:18.1px" stroke="#000" stroke-width="0.25">Oct-17</text>
<text transform="translate(366.80 429.0) rotate(-90) scale(1 0.975)" text-anchor="end" style="font-size:18.1px" stroke="#000" stroke-width="0.25">Apr-18</text>
<text transform="translate(392.40 429.0) rotate(-90) scale(1 0.975)" text-anchor="end" style="font-size:18.1px" stroke="#000" stroke-width="0.25">Oct-18</text>
<text transform="translate(418.00 429.0) rotate(-90) scale(1 0.975)" text-anchor="end" style="font-size:18.1px" stroke="#000" stroke-width="0.25">Apr-19</text>
<text transform="translate(443.60 429.0) rotate(-90) scale(1 0.975)" text-anchor="end" style="font-size:18.1px" stroke="#000" stroke-width="0.25">Oct-19</text>
<text transform="translate(469.20 429.0) rotate(-90) scale(1 0.975)" text-anchor="end" style="font-size:18.1px" stroke="#000" stroke-width="0.25">Apr-20</text>
<text transform="translate(494.80 429.0) rotate(-90) scale(1 0.975)" text-anchor="end" style="font-size:18.1px" stroke="#000" stroke-width="0.25">Oct-20</text>
<text transform="translate(520.40 429.0) rotate(-90) scale(1 0.975)" text-anchor="end" style="font-size:18.1px" stroke="#000" stroke-width="0.25">Apr-21</text>
<text transform="translate(546.00 429.0) rotate(-90) scale(1 0.975)" text-anchor="end" style="font-size:18.1px" stroke="#000" stroke-width="0.25">Oct-21</text>
<text transform="translate(571.60 429.0) rotate(-90) scale(1 0.975)" text-anchor="end" style="font-size:18.1px" stroke="#000" stroke-width="0.25">Apr-22</text>
<text transform="translate(597.20 429.0) rotate(-90) scale(1 0.975)" text-anchor="end" style="font-size:18.1px" stroke="#000" stroke-width="0.25">Oct-22</text>
<text transform="translate(622.80 429.0) rotate(-90) scale(1 0.975)" text-anchor="end" style="font-size:18.1px" stroke="#000" stroke-width="0.25">Apr-23</text>
<text transform="translate(648.40 429.0) rotate(-90) scale(1 0.975)" text-anchor="end" style="font-size:18.1px" stroke="#000" stroke-width="0.25">Oct-23</text>
<text transform="translate(674.00 429.0) rotate(-90) scale(1 0.975)" text-anchor="end" style="font-size:18.1px" stroke="#000" stroke-width="0.25">Apr-24</text>
<text transform="translate(699.60 429.0) rotate(-90) scale(1 0.975)" text-anchor="end" style="font-size:18.1px" stroke="#000" stroke-width="0.25">Oct-24</text>
<text transform="translate(725.20 429.0) rotate(-90) scale(1 0.975)" text-anchor="end" style="font-size:18.1px" stroke="#000" stroke-width="0.25">Apr-25</text>
<text transform="translate(750.80 429.0) rotate(-90) scale(1 0.975)" text-anchor="end" style="font-size:18.1px" stroke="#000" stroke-width="0.25">Oct-25</text>
<g fill="#000">
<text x="428.3" y="38.4" text-anchor="middle" style="font-family:'Liberation Sans','Noto Sans CJK SC',sans-serif;font-size:21.2px;font-weight:bold">美联储资产负债表规模</text>
<text x="235" y="62.8" style="font-family:'Liberation Sans','Noto Sans CJK SC',sans-serif;font-size:17.6px">美联储资产负债表</text>
<text x="502.5" y="62.8" style="font-family:'Liberation Sans','Noto Sans CJK SC',sans-serif;font-size:17.5px">同比增速（右轴）</text>
<text x="11.5" y="34" style="font-family:'Liberation Sans','Noto Sans CJK SC',sans-serif;font-size:17.5px">（十亿美元）</text>
</g>
<path stroke-linecap="round" d="M211 56.9 H232" stroke="#800000" stroke-width="3.5" fill="none"/>
<path stroke-linecap="round" d="M478.4 56.6 H498.4" stroke="#000080" stroke-width="3.5" fill="none"/>
</svg></body></html>
